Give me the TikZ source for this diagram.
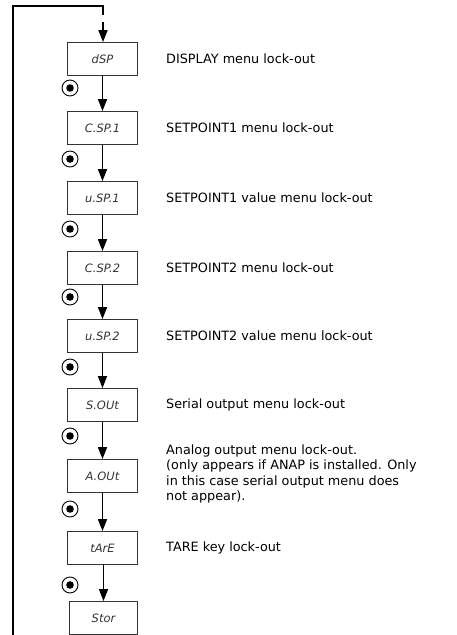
\documentclass[tikz,border=0pt]{standalone}
\usepackage{fontspec}
\setmainfont{DejaVu Sans}
\newfontfamily\segfont{DejaVu Sans}
\usetikzlibrary{arrows.meta}
\newcommand{\widthmenu}{70pt}
\newcommand{\heightmenu}{33pt}
\tikzset{
    menu/.style={draw=black!80, line width=0.8pt, rectangle, minimum width=\widthmenu, minimum height=\heightmenu, inner sep=0pt, font=\segfont\itshape\fontsize{11.5}{12}\selectfont, text=black!80},
    desc/.style={anchor=west, align=left, inner sep=0pt, font=\fontsize{12.8}{15.5}\selectfont},
    enter/.style={draw, line width=0.9pt, circle, minimum size=16pt, inner sep=0pt,
        path picture={\fill (path picture bounding box.center) circle (3.8pt);}},
    flow/.style={line width=1.6pt, -{Triangle[length=12pt, width=9pt]}},
    loop/.style={line width=1.5pt}
}

\begin{document}
\begin{tikzpicture}[x=1pt, y=-1pt]
    \useasboundingbox (0,0) rectangle (456,635);

    % menu steps
    \path
        (102.5,59)  node[menu] (dsp)  {dSP}
        (102.5,128) node[menu] (csp1) {C.SP.1}
        (102.5,198) node[menu] (usp1) {u.SP.1}
        (102.5,268) node[menu] (csp2) {C.SP.2}
        (102.5,336) node[menu] (usp2) {u.SP.2}
        (102.5,405) node[menu] (sout) {S.OUt}
        (102.5,476) node[menu] (aout) {A.OUt}
        (102.5,548) node[menu] (tare) {tArE}
        (103.5,618) node[menu, minimum width=68pt] (stor) {Stor};

    % enter keys
    \path
        (70,88)  node[enter] (key-dsp)  {}
        (70,159) node[enter] (key-csp1) {}
        (70,229) node[enter] (key-usp1) {}
        (70,297) node[enter] (key-csp2) {}
        (70,367) node[enter] (key-usp2) {}
        (70,436) node[enter] (key-sout) {}
        (70,509) node[enter] (key-aout) {}
        (70,585) node[enter] (key-tare) {};

    % descriptions
    \node[desc] (desc-dsp)  at (166,59)  {DISPLAY menu lock-out};
    \node[desc] (desc-csp1) at (166,128) {SETPOINT1 menu lock-out};
    \node[desc] (desc-usp1) at (166,198) {SETPOINT1 value menu lock-out};
    \node[desc] (desc-csp2) at (166,268) {SETPOINT2 menu lock-out};
    \node[desc] (desc-usp2) at (166,336) {SETPOINT2 value menu lock-out};
    \node[desc] (desc-sout) at (166,405) {Serial output menu lock-out};
    \node[desc] (desc-aout) at (166,474) {Analog output menu lock-out.\\(only appears if ANAP is installed. Only\\in this case serial output menu does\\not appear).};
    \node[desc] (desc-tare) at (166,548) {TARE key lock-out};

    % steps
    \draw[flow] (dsp)  -- (csp1);
    \draw[flow] (csp1) -- (usp1);
    \draw[flow] (usp1) -- (csp2);
    \draw[flow] (csp2) -- (usp2);
    \draw[flow] (usp2) -- (sout);
    \draw[flow] (sout) -- (aout);
    \draw[flow] (aout) -- (tare);
    \draw[flow] (tare.south -| stor.north) -- (stor);

    % return loop
    \coordinate (loop-bottom) at (13,635);
    \coordinate (loop-corner-left) at (13,6);
    \coordinate (loop-corner-right) at (103,6);
    \coordinate (loop-end) at (103,15);
    \coordinate (loop-entry) at (103,22);
    \draw[loop] (loop-bottom) -- (loop-corner-left) -- (loop-corner-right) -- (loop-end);
    \draw[flow] (loop-entry) -- (dsp.north -| loop-entry);
\end{tikzpicture}
\end{document}
